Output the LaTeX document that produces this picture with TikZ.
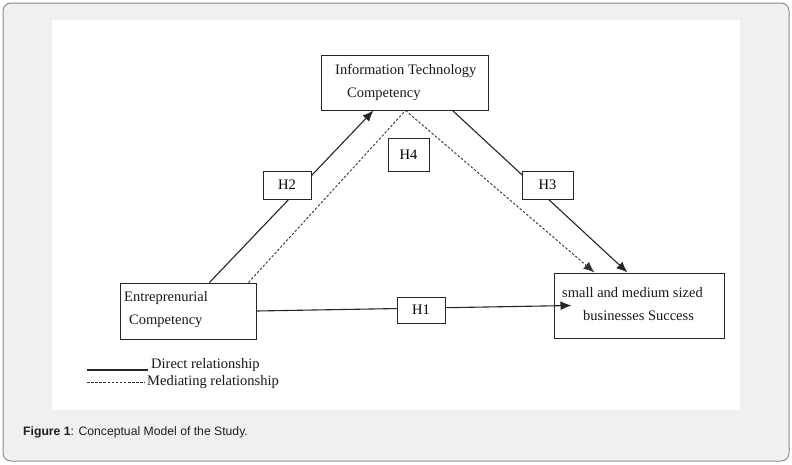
\documentclass[tikz,border=0pt]{standalone}
\usepackage{fontspec}
\setmainfont{Liberation Serif}
\newfontfamily\capfont{Liberation Sans}
\usetikzlibrary{arrows.meta}
\begin{document}
\begin{tikzpicture}[x=1pt,y=-1pt,
 box/.style={draw=black!85, line width=1pt, fill=white, inner sep=0pt},
 hbox/.style={draw=black!85, line width=0.9pt, fill=white, inner sep=0pt, font=\fontsize{14.5}{16}\selectfont},
 direct/.style={draw=black!85, line width=1.1pt},
 mediate/.style={draw=black!80, line width=0.9pt, dash pattern=on 2.5pt off 1.8pt},
 tip/.style={-{Latex[length=11pt,width=9pt]}},
 lbl/.style={font=\fontsize{14.5}{23}\selectfont, align=left, inner sep=0pt, anchor=west, text=black!90}]

\useasboundingbox (0,0) rectangle (792,464);
\draw[draw=black!45, fill=black!6, rounded corners=8pt, line width=1pt] (3,3) rectangle (789,461);
\fill[white] (52,20) rectangle (740,410);

% boxes
\node[box, minimum width=167pt, minimum height=55pt] (it) at (404.5,82.5) {};
\node[box, minimum width=136pt, minimum height=56pt] (ent) at (188,311) {};
\node[box, minimum width=170pt, minimum height=65pt] (sme) at (639,305.5) {};

\node[lbl] (itt) at (335,82.5) {Information Technology\\\hspace{12pt}Competency};
\node[lbl] (entt) at (124,310) {Entreprenurial\\\hspace{5pt}Competency};
\node[lbl] (smet) at (562,304) {small and medium sized\\\hspace{21pt}businesses Success};

% connectors
\draw[direct, tip] ([xshift=90pt]ent.north west) -- ([xshift=53pt]it.south west);
\draw[mediate] ([xshift=129pt]ent.north west) -- ([xshift=85pt]it.south west) coordinate (apex);
\draw[mediate, tip] (apex) -- ([xshift=41pt]sme.north west);
\draw[direct, tip] ([xshift=132pt]it.south west) -- ([xshift=74pt]sme.north west);
\draw[direct, tip] (ent.east) -- ([xshift=18pt]sme.west);

% hypothesis labels
\node[hbox, minimum width=48pt, minimum height=28pt] (h2) at (287,185) {H2};
\node[hbox, minimum width=41pt, minimum height=33pt] (h4) at (408.5,154.5) {H4};
\node[hbox, minimum width=51pt, minimum height=28pt] (h3) at (547.5,185) {H3};
\node[hbox, minimum width=48pt, minimum height=26pt] (h1) at (421,310) {H1};

% legend
\coordinate (l1a) at (87,370);
\coordinate (l1b) at (148,370);
\coordinate (l2a) at (87,382);
\coordinate (l2b) at (145,382);
\draw[direct] (l1a) -- (l1b);
\draw[mediate, dash pattern=on 2.5pt off 1.6pt] (l2a) -- (l2b);
\node[lbl] (leg1) at (151,365) {Direct relationship};
\node[lbl] (leg2) at (147,382) {Mediating relationship};

% caption
\node[anchor=west, inner sep=0pt, font=\capfont\fontsize{12.2}{14}\selectfont, text=black!88] (cap) at (23,432) {\textbf{Figure 1}: Conceptual Model of the Study.};
\end{tikzpicture}
\end{document}
